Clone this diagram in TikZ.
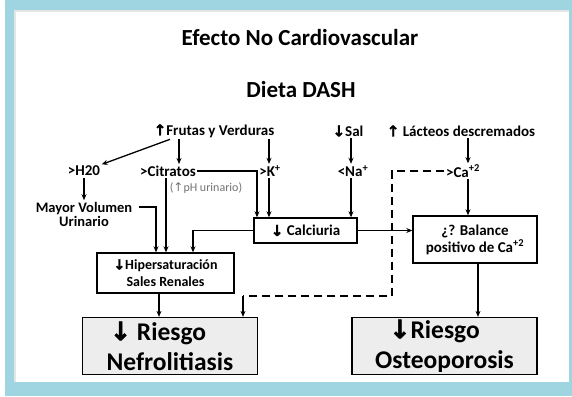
\documentclass[tikz,border=0pt]{standalone}
\usepackage{fontspec}
\setmainfont{Carlito}
\newfontface\arrfont[FakeBold=2]{DejaVu Sans Bold}
\newfontface\arrthin{DejaVu Sans}
\usetikzlibrary{arrows.meta, positioning}
\definecolor{dashblue}{HTML}{9ED5E0}
\definecolor{riskgray}{HTML}{EDEDED}
\newcommand{\arrup}{{\arrfont ↑}}
\newcommand{\arrdown}{{\arrfont ↓}}
\tikzset{
  dashdiag/.style={
    x=1pt, y=-1pt,
    >={Stealth[length=6pt, width=5pt]},
    line width=1.3pt,
  },
  lbl/.style={
    font=\bfseries\fontsize{15}{16}\selectfont, inner sep=1pt, align=center,
  },
  ttl/.style={font=\bfseries\fontsize{23}{26}\selectfont, inner sep=1pt},
  boxnode/.style={
    draw, line width=1.4pt, fill=white, inner sep=1pt, align=center,
    font=\bfseries\fontsize{15}{17}\selectfont,
  },
  riskbox/.style={
    draw, line width=1.3pt, fill=riskgray, inner sep=1pt, align=center,
    font=\bfseries\fontsize{25.5}{30}\selectfont,
  },
  flow/.style={->},
  dashflow/.style={dash pattern=on 8pt off 5pt},
}

\begin{document}
\begin{tikzpicture}[dashdiag]
  % frame
  \fill[white] (0,0) rectangle (572,396);
  \fill[dashblue] (5,0) rectangle (572,396);
  \fill[white] (14,10) rectangle (569,382);
  \draw[black!10, line width=2pt] (15,382) -- (15,11) -- (569,11);

  \node[ttl] (title) at (300,38) {Efecto No Cardiovascular};
  \node[ttl] (diet) at (301,90) {Dieta DASH};

  \node[lbl] (frutas) at (214,131) {\arrup Frutas y Verduras};
  \node[lbl] (sal) at (348,131) {\arrdown Sal};
  \node[lbl] (lacteos) at (461,131) {\arrup\ Lácteos descremados};

  \node[lbl] (h2o) at (84,171) {>H20};
  \node[lbl] (citratos) at (168,171) {>Citratos};
  \node[lbl] (kplus) at (270,171) {>K\textsuperscript{+}};
  \node[lbl] (na) at (353,171) {<Na\textsuperscript{+}};
  \node[lbl] (ca) at (463,171) {>Ca\textsuperscript{+2}};
  \node[lbl, font=\fontsize{12}{13}\selectfont, text=black!55] (ph) at (206,188) {({\arrthin ↑}pH urinario)};
  \node[lbl, font=\bfseries\fontsize{14.5}{14}\selectfont] (mayor) at (84,214) {Mayor Volumen\\Urinario};

  \node[boxnode, minimum width=103pt, minimum height=25pt] (calc) at (305.5,230.5) {\arrdown\ Calciuria};
  \node[boxnode, minimum width=124pt, minimum height=47pt] (balance) at (475,239.5) {¿? Balance\\positivo de Ca\textsuperscript{+2}};
  \node[boxnode, font=\bfseries\fontsize{14}{17}\selectfont, minimum width=137pt, minimum height=40pt] (hiper) at (165.5,273) {\arrdown Hipersaturación\\Sales Renales};
  \node[riskbox, minimum width=175pt, minimum height=57pt] (nefro) at (170,346) {\arrdown\ Riesgo\hspace*{24pt}\\Nefrolitiasis};
  \node[riskbox, minimum width=185pt, minimum height=57pt] (osteo) at (444.5,346) {\arrdown Riesgo\hspace*{20pt}\\Osteoporosis};

  \draw[flow] ([xshift=-44pt]frutas.south) -- (h2o.north east);
  \draw[flow] ([xshift=-35pt]frutas.south) -- ([xshift=11pt]citratos.north);
  \draw[flow] ([xshift=55pt]frutas.south) -- ([xshift=-1pt]kplus.north);
  \draw[flow] ([xshift=3pt]sal.south) -- ([xshift=-2pt]na.north);
  \draw[flow] ([xshift=7pt]lacteos.south) -- ([xshift=5pt]ca.north);
  \draw[flow] (h2o.south) -- (mayor.north);
  \draw[flow] (citratos.east) -| ([xshift=-48.5pt]calc.north);
  \draw[flow] ([xshift=-1pt]kplus.south) -- ([xshift=-36.5pt]calc.north);
  \draw[flow] ([xshift=-2pt]na.south) -- ([xshift=45.5pt]calc.north);
  \draw[flow] ([xshift=-2pt]citratos.south) -- ([xshift=0.5pt]hiper.north);
  \draw[flow] ([xshift=5pt, yshift=7pt]mayor.east) -| ([xshift=-9.5pt]hiper.north);
  \draw[flow] (calc.west) -| ([xshift=27.5pt]hiper.north);
  \draw[flow] (calc.east) -- (calc.east -| balance.west);
  \draw[flow] ([xshift=5pt]ca.south) -- ([xshift=-7pt]balance.north);
  \draw[flow] ([xshift=-6.5pt]hiper.south) -- ([xshift=-11pt]nefro.north);
  \draw[flow] ([xshift=3pt]balance.south) -- ([xshift=33.5pt]osteo.north);

  \coordinate (dtop) at (392,171);
  \coordinate (dbot) at (392,296);
  \coordinate (dleft) at (243,296);
  \draw[dashflow] (ca.west) -- (dtop) -- (dbot) -- (dleft);
  \draw[flow] (dleft) -- (dleft |- nefro.north);
\end{tikzpicture}
\end{document}
